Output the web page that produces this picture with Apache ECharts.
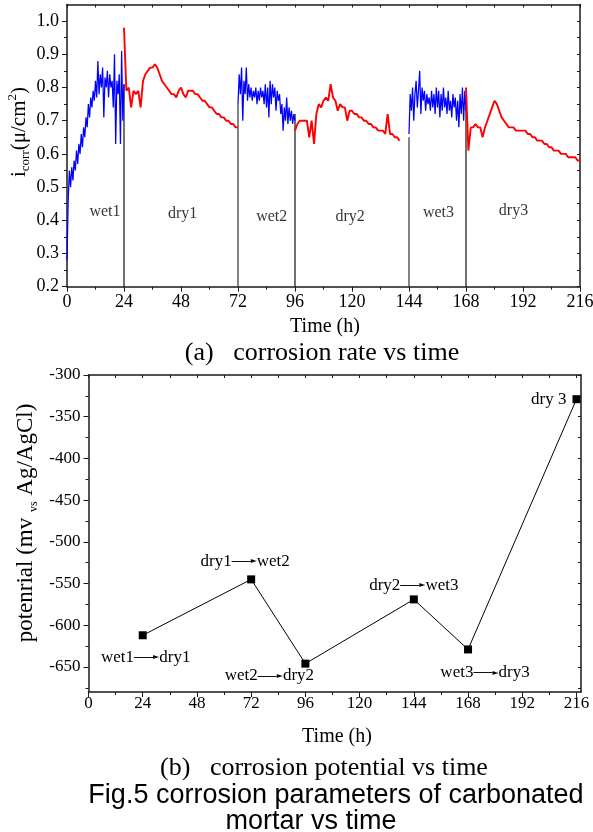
<!DOCTYPE html>
<html><head><meta charset="utf-8">
<script src="https://cdn.jsdelivr.net/npm/echarts@6/dist/echarts.min.js"></script>
<style>html,body{margin:0;padding:0;background:#fff}#c{width:593px;height:832px}</style>
</head><body><div id="c"></div>
<script>
// ---------- tick labels ----------
const timeTicks = [0, 24, 48, 72, 96, 120, 144, 168, 192, 216];
const timeMinor = [12, 36, 60, 84, 108, 132, 156, 180, 204];
const rateTicks = [0.2, 0.3, 0.4, 0.5, 0.6, 0.7, 0.8, 0.9, 1.0];
const rateMinor = [0.25, 0.35, 0.45, 0.55, 0.65, 0.75, 0.85, 0.95];
const potTicks = [-650, -600, -550, -500, -450, -400, -350, -300];
const potMinor = [-675, -625, -575, -525, -475, -425, -375, -325];

// ---------- (a) corrosion rate ----------
// wet phases sampled every 0.5 h, dry phases every 1 h
const wet1 = [0.28,0.46,0.55,0.50,0.56,0.52,0.58,0.55,0.61,0.57,0.63,0.60,0.66,0.62,0.68,0.65,0.71,0.68,0.75,0.71,0.77,0.74,0.79,0.76,0.82,0.77,0.88,0.78,0.84,0.80,0.86,0.71,0.83,0.80,0.85,0.77,0.84,0.80,0.82,0.74,0.90,0.63,0.82,0.78,0.84,0.63,0.91,0.70,0.81];
const dry1 = [0.98,0.79,0.80,0.74,0.79,0.78,0.79,0.74,0.82,0.84,0.85,0.86,0.86,0.87,0.86,0.84,0.82,0.81,0.80,0.79,0.78,0.78,0.77,0.79,0.80,0.78,0.77,0.79,0.79,0.79,0.78,0.78,0.77,0.76,0.76,0.75,0.74,0.74,0.73,0.72,0.72,0.71,0.71,0.70,0.70,0.69,0.69,0.68,0.68];
const wet2 = [0.75,0.84,0.78,0.86,0.70,0.82,0.78,0.86,0.76,0.81,0.77,0.80,0.76,0.79,0.77,0.80,0.75,0.79,0.76,0.80,0.77,0.79,0.75,0.81,0.74,0.80,0.71,0.82,0.75,0.81,0.77,0.80,0.73,0.79,0.76,0.78,0.72,0.75,0.67,0.74,0.70,0.77,0.69,0.74,0.70,0.73,0.69,0.72,0.70];
const dry2 = [0.67,0.69,0.70,0.70,0.70,0.70,0.65,0.70,0.63,0.72,0.75,0.74,0.76,0.77,0.76,0.81,0.77,0.76,0.73,0.75,0.74,0.74,0.70,0.73,0.73,0.72,0.72,0.71,0.71,0.70,0.70,0.69,0.69,0.68,0.68,0.67,0.67,0.67,0.66,0.72,0.66,0.66,0.65,0.65,0.64];
const wet3 = [0.66,0.78,0.73,0.80,0.70,0.78,0.82,0.74,0.79,0.85,0.72,0.80,0.76,0.79,0.73,0.78,0.75,0.77,0.73,0.79,0.74,0.78,0.72,0.80,0.74,0.79,0.71,0.78,0.73,0.80,0.74,0.77,0.72,0.79,0.73,0.76,0.71,0.78,0.74,0.77,0.70,0.76,0.68,0.78,0.72,0.80,0.70,0.79,0.73];
const dry3 = [0.80,0.61,0.68,0.68,0.69,0.68,0.68,0.65,0.68,0.70,0.72,0.74,0.76,0.75,0.73,0.71,0.70,0.69,0.68,0.68,0.68,0.67,0.67,0.67,0.67,0.67,0.66,0.66,0.65,0.65,0.64,0.64,0.64,0.63,0.63,0.62,0.62,0.61,0.61,0.61,0.60,0.60,0.60,0.59,0.59,0.59,0.59,0.58,0.58];
const segStart = [0, 24, 72, 96, 144, 168];
const segStep = [0.5, 1, 0.5, 1, 0.5, 1];
const sepTimes = [24, 72, 96, 144, 168];
const sepTops = [0.81, 0.75, 0.72, 0.65, 0.74];
const phaseNames = ['wet1', 'dry1', 'wet2', 'dry2', 'wet3', 'dry3'];
const phaseX = [16, 48.7, 86.2, 119.2, 156.4, 188];
const phaseY = [0.426, 0.42, 0.41, 0.41, 0.423, 0.43];

// ---------- (b) corrosion potential ----------
const potTimes = [24, 72, 96, 144, 168, 216];
const potValues = [-612, -545, -646, -569, -629, -329];
const potLabels = [['wet1', 'dry1'], ['dry1', 'wet2'], ['wet2', 'dry2'], ['dry2', 'wet3'], ['wet3', 'dry3'], ['dry 3']];

// ---------- build ----------
const serif = '"Liberation Serif","Times New Roman",serif';
const sans = '"Liberation Sans",Arial,sans-serif';
const ink = '#1a1a1a';
const segs = [wet1, dry1, wet2, dry2, wet3, dry3];
const segColor = ['#0000ff', '#ff0000', '#0000ff', '#ff0000', '#0000ff', '#ff0000'];
const labelOffsets = [[3, 22], [-6, -18], [-36, 12], [0, -14], [17, 23], [0, 0]];

const series = [];
sepTimes.forEach((t, i) => series.push({
  type: 'line', xAxisIndex: 0, yAxisIndex: 0, symbol: 'none', silent: true, z: 1,
  data: [[t, 0.2], [t, sepTops[i]]], lineStyle: { color: i % 2 ? '#333' : '#111', width: 1.2 }
}));
segs.forEach((vals, k) => series.push({
  type: 'line', xAxisIndex: 0, yAxisIndex: 0, symbol: 'none', silent: true, z: 2,
  data: vals.map((v, i) => [segStart[k] + i * segStep[k], v]),
  lineStyle: { color: segColor[k], width: k % 2 ? 1.9 : 1.25 }
}));
series.push({
  type: 'scatter', xAxisIndex: 0, yAxisIndex: 0, symbolSize: 0, silent: true,
  data: phaseX.map((x, i) => [x, phaseY[i], phaseNames[i]]),
  label: { show: true, position: 'inside', formatter: p => p.data[2], fontFamily: serif, fontSize: 16, color: '#000' }
});
series.push({
  type: 'line', xAxisIndex: 2, yAxisIndex: 3, symbol: 'rect', symbolSize: 8, silent: true,
  itemStyle: { color: '#000' }, lineStyle: { color: '#000', width: 1 },
  data: potTimes.map((t, i) => {
    const L = potLabels[i];
    const txt = L.length === 2 ? '{t|' + L[0] + '}{a|—}{h|►}{t|' + L[1] + '}' : '{t|' + L[0] + '}';
    const lab = L.length === 2
      ? { show: true, position: 'inside', offset: labelOffsets[i], formatter: txt }
      : { show: true, position: 'left', distance: 6, formatter: txt };
    return { value: [t, potValues[i]], label: lab };
  }),
  label: {
    color: '#000',
    rich: {
      t: { fontFamily: serif, fontSize: 17, color: '#000' },
      a: { fontFamily: serif, fontSize: 19, color: '#000' },
      h: { fontFamily: '"DejaVu Sans"', fontSize: 8, color: '#000' }
    }
  }
});

const lineSt = { color: ink, width: 1.5 };
function xa(grid, pos, max, o) {
  return Object.assign({
    gridIndex: grid, type: 'value', position: pos, min: 0, max: max,
    axisLine: { show: true, onZero: false, lineStyle: lineSt },
    splitLine: { show: false }, minorSplitLine: { show: false }
  }, o);
}
function ya(grid, pos, min, max, o) {
  return Object.assign({
    gridIndex: grid, type: 'value', position: pos, min: min, max: max,
    axisLine: { show: true, onZero: false, lineStyle: lineSt },
    splitLine: { show: false }, minorSplitLine: { show: false }
  }, o);
}
const tick = (vals, len, inside) => ({ show: true, customValues: vals, length: len, inside: !!inside, lineStyle: { color: ink, width: 1 } });

const option = {
  animation: false,
  grid: [
    { left: 67, top: 4.5, width: 513, height: 282.2, outerBoundsMode: 'none', containLabel: false },
    { left: 88.5, top: 375, width: 492.5, height: 317, outerBoundsMode: 'none', containLabel: false }
  ],
  xAxis: [
    xa(0, 'bottom', 216, { axisTick: tick(timeTicks, 5), axisLabel: { customValues: timeTicks, fontFamily: serif, fontSize: 18, color: '#000', margin: 7 } }),
    xa(0, 'bottom', 216, { axisLine: { show: false, onZero: false }, axisTick: tick(timeMinor, 3), axisLabel: { show: false } }),
    xa(1, 'bottom', 218, { axisTick: tick(timeTicks, 5), axisLabel: { customValues: timeTicks, fontFamily: serif, fontSize: 17, color: '#000', margin: 3 } }),
    xa(1, 'bottom', 218, { axisLine: { show: false, onZero: false }, axisTick: tick(timeMinor, 3), axisLabel: { show: false } }),
    xa(0, 'top', 216, { axisTick: tick(timeTicks.concat(timeMinor), 3, true), axisLabel: { show: false } }),
    xa(1, 'top', 218, { axisTick: tick(timeTicks.concat(timeMinor), 3, true), axisLabel: { show: false } })
  ],
  yAxis: [
    ya(0, 'left', 0.2, 1.05, { axisTick: tick(rateTicks, 5), axisLabel: { customValues: rateTicks, formatter: v => v.toFixed(1), fontFamily: serif, fontSize: 18, color: '#000', margin: 8 } }),
    ya(0, 'left', 0.2, 1.05, { axisLine: { show: false, onZero: false }, axisTick: tick(rateMinor, 3), axisLabel: { show: false } }),
    ya(0, 'right', 0.2, 1.05, { axisTick: tick(rateTicks.concat(rateMinor), 3, true), axisLabel: { show: false } }),
    ya(1, 'left', -680, -300, { axisTick: tick(potTicks, 5), axisLabel: { customValues: potTicks, formatter: v => String(v), fontFamily: serif, fontSize: 17, color: '#000', margin: 8 } }),
    ya(1, 'left', -680, -300, { axisLine: { show: false, onZero: false }, axisTick: tick(potMinor, 3), axisLabel: { show: false } }),
    ya(1, 'right', -680, -300, { axisTick: tick(potTicks.concat(potMinor), 3, true), axisLabel: { show: false } })
  ],
  series: series,
  graphic: [
    { type: 'text', x: 19, y: 132, rotation: Math.PI / 2, silent: true,
      style: { text: '{m|i}{s|corr}{m|(μ/cm}{p|2}{m|)}', align: 'center', verticalAlign: 'middle', fill: '#000',
        rich: {
          m: { fontFamily: serif, fontSize: 21, lineHeight: 26, verticalAlign: 'middle', fill: '#000' },
          s: { fontFamily: serif, fontSize: 13, lineHeight: 13, verticalAlign: 'bottom', fill: '#000' },
          p: { fontFamily: serif, fontSize: 13, lineHeight: 13, verticalAlign: 'top', fill: '#000' }
        } } },
    { type: 'text', x: 26, y: 523, rotation: Math.PI / 2, silent: true,
      style: { text: '{m|potenrial (mv }{s|vs}{m| Ag/AgCl)}', align: 'center', verticalAlign: 'middle', fill: '#000',
        rich: {
          m: { fontFamily: serif, fontSize: 23, lineHeight: 28, verticalAlign: 'middle', fill: '#000' },
          s: { fontFamily: serif, fontSize: 12, lineHeight: 12, verticalAlign: 'bottom', fill: '#000' }
        } } },
    { type: 'text', x: 325, y: 327, silent: true, style: { text: 'Time (h)', font: '20px ' + serif, align: 'center', verticalAlign: 'middle', fill: '#000' } },
    { type: 'text', x: 322, y: 353, silent: true, style: { text: '(a)   corrosion rate vs time', font: '26px ' + serif, align: 'center', verticalAlign: 'middle', fill: '#000' } },
    { type: 'text', x: 337, y: 737, silent: true, style: { text: 'Time (h)', font: '20px ' + serif, align: 'center', verticalAlign: 'middle', fill: '#000' } },
    { type: 'text', x: 324, y: 768, silent: true, style: { text: '(b)   corrosion potential vs time', font: '26px ' + serif, align: 'center', verticalAlign: 'middle', fill: '#000' } },
    { type: 'text', x: 336, y: 796, silent: true, style: { text: 'Fig.5 corrosion parameters of carbonated', font: '27px ' + sans, align: 'center', verticalAlign: 'middle', fill: '#000' } },
    { type: 'text', x: 311, y: 822, silent: true, style: { text: 'mortar vs time', font: '27px ' + sans, align: 'center', verticalAlign: 'middle', fill: '#000' } }
  ]
};
const chart = echarts.init(document.getElementById('c'));
chart.setOption(option);
</script>
</body></html>
